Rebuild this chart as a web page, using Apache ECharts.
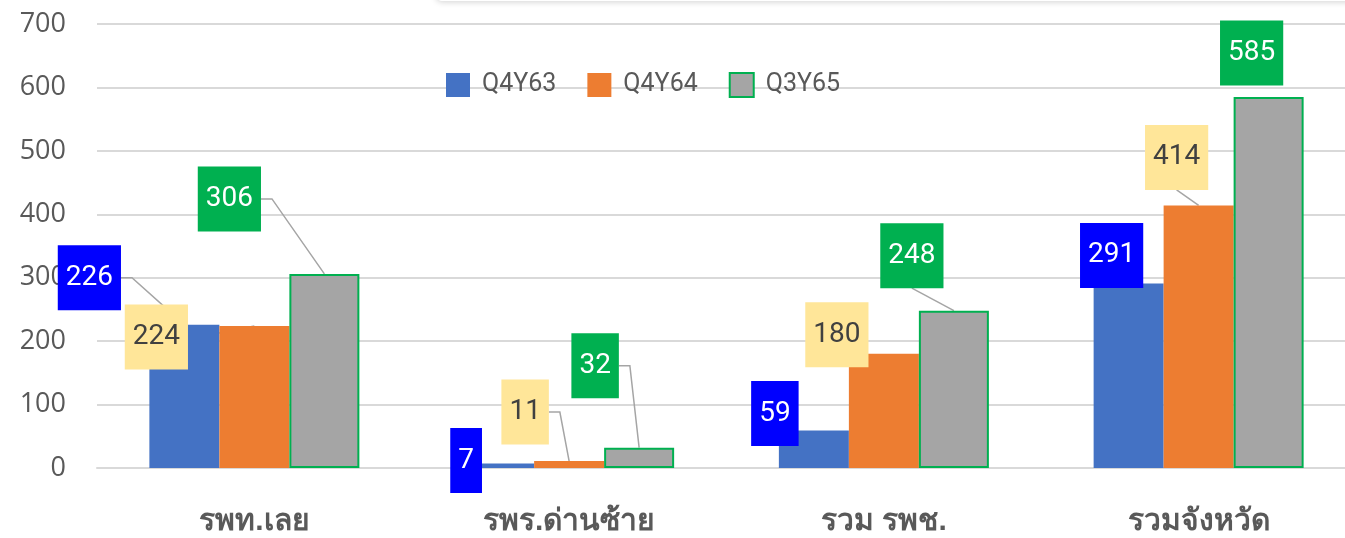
<!DOCTYPE html>
<html>
<head>
<meta charset="utf-8">
<title></title>
<style>
  html, body { margin: 0; padding: 0; background: #fff; }
  #main { width: 1345px; height: 538px; }
</style>
</head>
<body>
<div id="main"></div>
<script src="https://cdn.jsdelivr.net/npm/echarts@6/dist/echarts.min.js"></script>
<script>
  // data
  var categories = ['รพท.เลย', 'รพร.ด่านซ้าย', 'รวม รพช.', 'รวมจังหวัด'];
  var seriesNames = ['Q4Y63', 'Q4Y64', 'Q3Y65'];
  var q4y63 = [226, 7, 59, 291];
  var q4y64 = [224, 11, 180, 414];
  var q3y65 = [306, 32, 248, 585];

  // centre of each value box, relative to the top centre of its bar (layout only)
  var shift63 = [[-95, -47], [-33, -3], [-39, -17], [-17, -28]];
  var shift64 = [[-98, 11], [-44, -49], [-47, -19], [-22, -48]];
  var shift65 = [[-95, -75], [-44, -82], [-42, -55], [-17, -44]];
  var shifts = [shift63, shift64, shift65];
  // side of the box the leader line leaves from ('' = no leader)
  var lead63 = ['r', '', '', ''];
  var lead64 = ['r', 'r', '', 'b'];
  var lead65 = ['r', 'r', 'b', ''];
  var leads = [lead63, lead64, lead65];

  var gridGray = '#D9D9D9';
  var textGray = '#595959';
  var boxes = [[], [], []];

  function boxLabel(bg, fg) {
    return {
      show: true,
      position: 'top',
      distance: 0,
      backgroundColor: bg,
      color: fg,
      fontFamily: 'Roboto',
      fontSize: 28,
      lineHeight: 31,
      padding: [17, 8, 17, 8]
    };
  }

  function placeLabel(p) {
    var s = shifts[p.seriesIndex][p.dataIndex];
    var cx = p.rect.x + p.rect.width / 2 + s[0];
    var cy = p.rect.y + s[1];
    boxes[p.seriesIndex][p.dataIndex] = {
      cx: cx, cy: cy, w: p.labelRect.width, h: p.labelRect.height,
      bx: p.rect.x + p.rect.width / 2, by: p.rect.y
    };
    return { x: cx, y: cy, align: 'center', verticalAlign: 'middle' };
  }

  var myChart = echarts.init(document.getElementById('main'));
  var option = {
    animation: false,
    legend: {
      left: 446,
      top: 72,
      padding: 0,
      icon: 'rect',
      itemWidth: 24,
      itemHeight: 24,
      itemGap: 31,
      textStyle: { color: textGray, fontSize: 25, fontFamily: 'Roboto', padding: [0, 0, 8, 7] },
      data: seriesNames
    },
    grid: { left: 97, right: -11, top: 24, bottom: 70, containLabel: false, outerBoundsMode: 'none' },
    xAxis: {
      type: 'category',
      data: categories,
      axisTick: { show: false },
      axisLine: { lineStyle: { color: gridGray, width: 2 } },
      axisLabel: { color: textGray, fontSize: 30, fontWeight: 'bold', margin: 39 }
    },
    yAxis: {
      type: 'value',
      min: 0,
      max: 700,
      interval: 100,
      axisLine: { show: false },
      axisTick: { show: false },
      axisLabel: { color: textGray, fontSize: 27, fontFamily: 'Open Sans', margin: 31 },
      splitLine: { lineStyle: { color: gridGray, width: 2 } }
    },
    series: [
      {
        name: seriesNames[0], type: 'bar', barWidth: 70, barGap: '0%',
        itemStyle: { color: '#4472C4' },
        label: boxLabel('#0000FF', '#FFFFFF'),
        labelLayout: placeLabel,
        data: q4y63
      },
      {
        name: seriesNames[1], type: 'bar', barWidth: 70, barGap: '0%',
        itemStyle: { color: '#ED7D31' },
        label: boxLabel('#FFE699', '#404040'),
        labelLayout: placeLabel,
        data: q4y64
      },
      {
        name: seriesNames[2], type: 'bar', barWidth: 70, barGap: '0%',
        itemStyle: { color: '#A5A5A5', borderColor: '#00B050', borderWidth: 2 },
        label: boxLabel('#00B050', '#FFFFFF'),
        labelLayout: placeLabel,
        data: q3y65
      }
    ]
  };
  myChart.setOption(option);

  // leader lines from each moved value box back to the top of its bar
  var graphics = [{
    type: 'rect',
    left: 436, top: -30,
    shape: { width: 960, height: 31, r: 6 },
    style: { fill: '#fff', shadowBlur: 6, shadowColor: 'rgba(0,0,0,0.18)', shadowOffsetY: 1 },
    z: 0
  }];
  for (var s = 0; s < 3; s++) {
    for (var d = 0; d < categories.length; d++) {
      var b = boxes[s][d];
      var side = leads[s][d];
      if (!b || !side) continue;
      var pts;
      if (side === 'r') {
        var rx = b.cx + b.w / 2;
        pts = [[rx, b.cy], [rx + 11, b.cy], [b.bx, b.by]];
      } else {
        pts = [[b.cx, b.cy + b.h / 2], [b.bx, b.by]];
      }
      graphics.push({
        type: 'polyline',
        shape: { points: pts },
        style: { stroke: '#A5A5A5', lineWidth: 1.5, fill: null },
        z: 1
      });
    }
  }
  myChart.setOption({ graphic: graphics });
</script>
</body>
</html>
